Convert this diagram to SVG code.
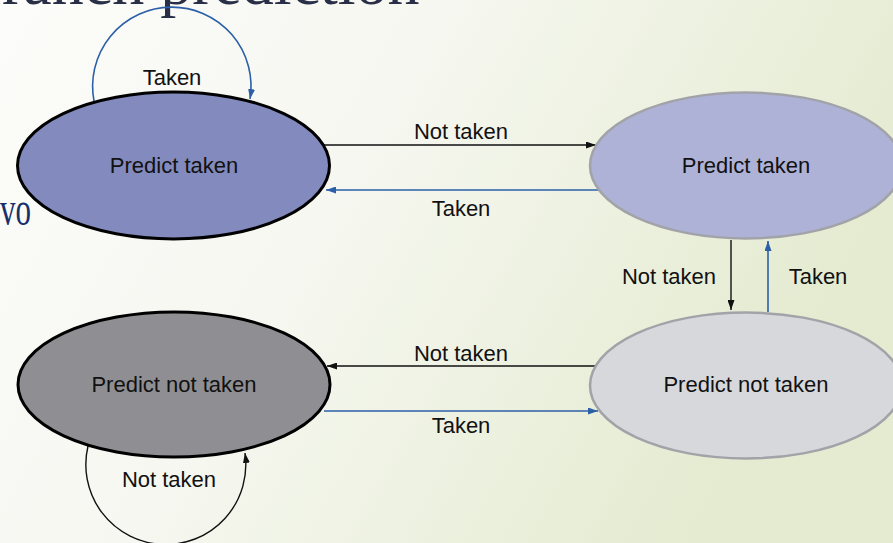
<svg xmlns="http://www.w3.org/2000/svg" width="893" height="543" viewBox="0 0 893 543">
<defs>
<linearGradient id="bg" x1="0" y1="0" x2="1" y2="0.35">
<stop offset="0" stop-color="#FCFCFA"/>
<stop offset="0.45" stop-color="#F6F7F0"/>
<stop offset="1" stop-color="#E4EBD0"/>
</linearGradient>
<marker id="ak" viewBox="0 0 10 7" refX="10" refY="3.5" markerWidth="10" markerHeight="7" markerUnits="userSpaceOnUse" orient="auto">
<path d="M0,0 L10,3.5 L0,7 z" fill="#111"/>
</marker>
<marker id="ab" viewBox="0 0 10 7" refX="10" refY="3.5" markerWidth="10" markerHeight="7" markerUnits="userSpaceOnUse" orient="auto">
<path d="M0,0 L10,3.5 L0,7 z" fill="#2B5FA8"/>
</marker>
</defs>
<style>
.lbl{font-family:"Liberation Sans",Arial,sans-serif;font-size:22px;fill:#111;text-anchor:middle}
.slide{font-family:"Liberation Serif","Times New Roman",serif}
.k{fill:none;stroke:#111;stroke-width:1.4;marker-end:url(#ak)}
.b{fill:none;stroke:#2B5FA8;stroke-width:1.6;marker-end:url(#ab)}
.dark{stroke:#000;stroke-width:3}
.light{stroke:#A2A3A8;stroke-width:2.5}
</style>
<rect x="0" y="0" width="893" height="543" fill="url(#bg)"/>
<text class="slide" x="2" y="4" font-size="64" fill="#2A2F48">ranch prediction</text>
<text class="slide" x="0" y="225" font-size="48" fill="#17306B" textLength="31" lengthAdjust="spacingAndGlyphs">vo</text>

<g id="connectors">
<path class="b" d="M 94 101 A 79.2 79.2 0 1 1 250 99"/>
<path class="k" d="M 88 446 A 80 80 0 1 0 245 453"/>
<line class="k" x1="324" y1="145" x2="596" y2="145"/>
<line class="b" x1="599" y1="190" x2="326" y2="190"/>
<line class="k" x1="731" y1="240" x2="731" y2="310"/>
<line class="b" x1="768" y1="312" x2="768" y2="241"/>
<line class="k" x1="596" y1="366" x2="327" y2="366"/>
<line class="b" x1="324" y1="411" x2="598" y2="411"/>
<text class="lbl" x="172" y="85">Taken</text>
<text class="lbl" x="461" y="139">Not taken</text>
<text class="lbl" x="461" y="216">Taken</text>
<text class="lbl" x="669" y="284">Not taken</text>
<text class="lbl" x="818" y="284">Taken</text>
<text class="lbl" x="461" y="361">Not taken</text>
<text class="lbl" x="461" y="433">Taken</text>
<text class="lbl" x="169" y="487">Not taken</text>
</g>

<g id="strong-taken">
<ellipse class="dark" cx="173.5" cy="165.5" rx="156" ry="73.5" fill="#838ABD"/>
<text class="lbl" x="174" y="173">Predict taken</text>
</g>
<g id="weak-taken">
<ellipse class="light" cx="746" cy="165.5" rx="156" ry="73" fill="#AEB2D7"/>
<text class="lbl" x="746" y="173">Predict taken</text>
</g>
<g id="weak-not-taken">
<ellipse class="light" cx="746" cy="385.5" rx="156" ry="73" fill="#D7D8DC"/>
<text class="lbl" x="746" y="392">Predict not taken</text>
</g>
<g id="strong-not-taken">
<ellipse class="dark" cx="174" cy="384.5" rx="156" ry="72.5" fill="#8F8F93"/>
<text class="lbl" x="174" y="392">Predict not taken</text>
</g>
</svg>
